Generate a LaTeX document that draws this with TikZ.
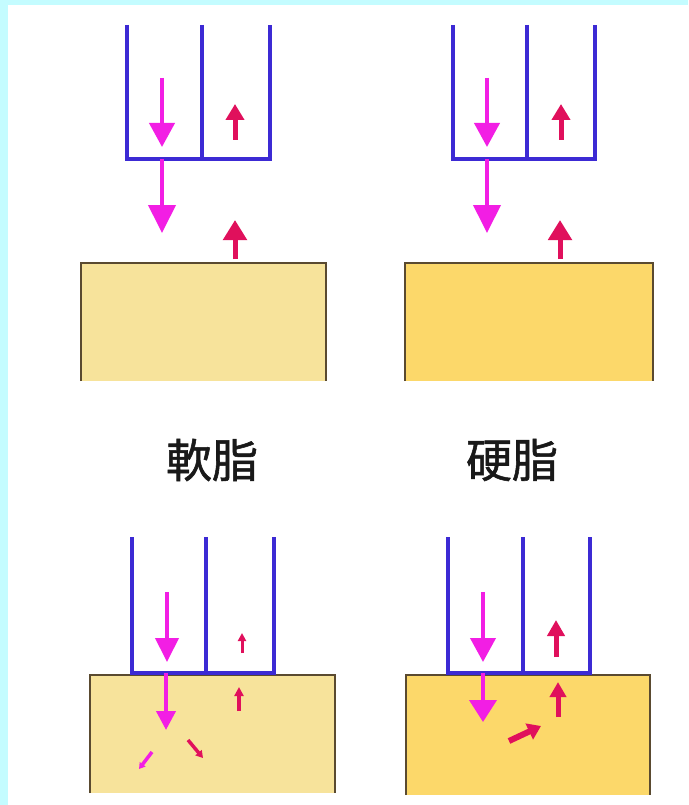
\documentclass[tikz,border=0pt]{standalone}
\usepackage{fontspec}
\newfontfamily\cjk[FakeBold=1.2]{Noto Sans CJK JP}
\usetikzlibrary{arrows.meta}
\definecolor{frame}{HTML}{C4FCFF}
\definecolor{wall}{HTML}{3C2AD4}
\definecolor{inflow}{HTML}{F21EE4}
\definecolor{outflow}{HTML}{E0105C}
\definecolor{softfat}{HTML}{F7E39B}
\definecolor{hardfat}{HTML}{FCD86A}
\definecolor{edge}{HTML}{5A4A30}
\tikzset{
  cupwall/.style={draw=wall, line width=4pt, line cap=butt, line join=miter},
  blockedge/.style={draw=edge, line width=1.6pt},
  inarrow/.style args={#1/#2/#3}{draw=inflow, line width=#3pt,
      -{Triangle[width=#1pt,length=#2pt]}},
  outarrow/.style args={#1/#2/#3}{draw=outflow, line width=#3pt,
      -{Triangle[width=#1pt,length=#2pt]}},
  label/.style={font=\cjk\fontsize{46}{50}\selectfont, text=black!90}
}
\begin{document}
\begin{tikzpicture}[x=1pt,y=-1pt]
\useasboundingbox (0,0) rectangle (688,805);
\fill[white] (0,0) rectangle (688,805);
\fill[frame] (0,0) rectangle (688,5);
\fill[frame] (0,0) rectangle (8,805);

% ---------- upper left: soft fat, before contact ----------
\fill[softfat] (81,263) rectangle (326,381);
\draw[blockedge] (81,381) -- (81,263) -- (326,263) -- (326,381);
\draw[cupwall] (127,25) -- (127,159) -- (270,159) -- (270,25);
\draw[cupwall] (202,25) -- (202,159);
\coordinate (a1s) at (162,78);  \coordinate (a1e) at (162,147);
\coordinate (a2s) at (162,159); \coordinate (a2e) at (162,233);
\coordinate (a3s) at (235,140); \coordinate (a3e) at (235,104);
\coordinate (a4s) at (235,259); \coordinate (a4e) at (235,220);
\draw[inarrow=25/24/4] (a1s) -- (a1e);
\draw[inarrow=27/28/4] (a2s) -- (a2e);
\draw[outarrow=18/16/5] (a3s) -- (a3e);
\draw[outarrow=23/20/5] (a4s) -- (a4e);

% ---------- upper right: hard fat, before contact ----------
\fill[hardfat] (405,263) rectangle (653,381);
\draw[blockedge] (405,381) -- (405,263) -- (653,263) -- (653,381);
\draw[cupwall] (453,25) -- (453,159) -- (595,159) -- (595,25);
\draw[cupwall] (527,25) -- (527,159);
\coordinate (b1s) at (487,78);  \coordinate (b1e) at (487,147);
\coordinate (b2s) at (487,159); \coordinate (b2e) at (487,233);
\coordinate (b3s) at (561,140); \coordinate (b3e) at (561,104);
\coordinate (b4s) at (560,259); \coordinate (b4e) at (560,220);
\draw[inarrow=25/24/4] (b1s) -- (b1e);
\draw[inarrow=27/28/4] (b2s) -- (b2e);
\draw[outarrow=18/16/5] (b3s) -- (b3e);
\draw[outarrow=23/20/5] (b4s) -- (b4e);

% ---------- labels ----------
\node[label] (soft) at (212,460) {軟脂};
\node[label] (hard) at (512,460) {硬脂};

% ---------- lower left: soft fat, probe in contact ----------
\fill[softfat] (90,675) rectangle (335,793);
\draw[blockedge] (90,793) -- (90,675) -- (335,675) -- (335,793);
\draw[cupwall] (132,537) -- (132,673) -- (274,673) -- (274,537);
\draw[cupwall] (206,537) -- (206,673);
\coordinate (c1s) at (167,592); \coordinate (c1e) at (167,662);
\coordinate (c2s) at (166,673); \coordinate (c2e) at (166,730);
\coordinate (c3s) at (242,653); \coordinate (c3e) at (242,633);
\coordinate (c4s) at (239,711); \coordinate (c4e) at (239,687);
\coordinate (c5s) at (152,752); \coordinate (c5e) at (139,769);
\coordinate (c6s) at (188,740); \coordinate (c6e) at (203,758);
\draw[inarrow=23/24/4] (c1s) -- (c1e);
\draw[inarrow=19/19/4] (c2s) -- (c2e);
\draw[outarrow=8/8/3] (c3s) -- (c3e);
\draw[outarrow=9/9/3.5] (c4s) -- (c4e);
\draw[inarrow=7/6/3.5] (c5s) -- (c5e);
\draw[outarrow=8/7/3.5] (c6s) -- (c6e);

% ---------- lower right: hard fat, probe in contact ----------
\fill[hardfat] (406,675) rectangle (650,795);
\draw[blockedge] (406,795) -- (406,675) -- (650,675) -- (650,795);
\draw[cupwall] (448,537) -- (448,673) -- (590,673) -- (590,537);
\draw[cupwall] (523,537) -- (523,673);
\coordinate (d1s) at (483,592); \coordinate (d1e) at (483,662);
\coordinate (d2s) at (483,673); \coordinate (d2e) at (483,722);
\coordinate (d3s) at (556,657); \coordinate (d3e) at (556,620);
\coordinate (d4s) at (558,717); \coordinate (d4e) at (558,682);
\coordinate (d5s) at (509,741); \coordinate (d5e) at (541,726);
\draw[inarrow=25/24/4] (d1s) -- (d1e);
\draw[inarrow=27/22/4] (d2s) -- (d2e);
\draw[outarrow=17/16/5] (d3s) -- (d3e);
\draw[outarrow=16/15/5] (d4s) -- (d4e);
\draw[outarrow=17/13/6] (d5s) -- (d5e);
\end{tikzpicture}
\end{document}
